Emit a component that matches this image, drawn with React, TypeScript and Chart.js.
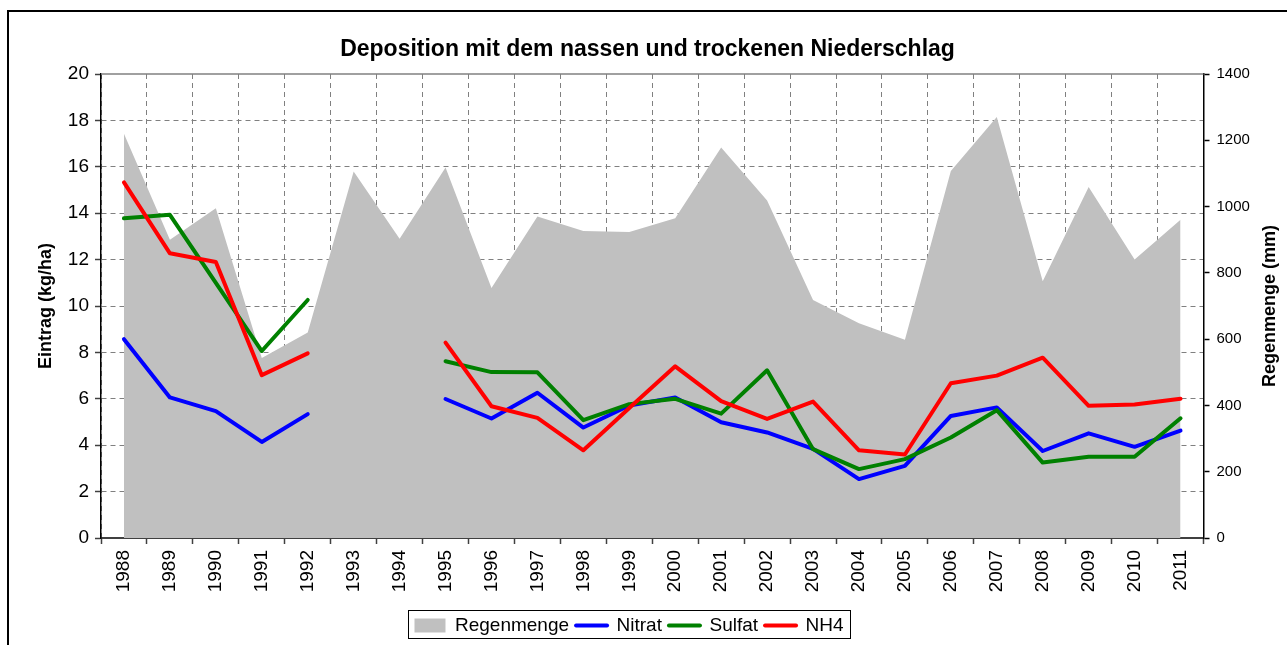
import React, { useEffect, useRef } from 'react';
import { Chart, registerables } from 'chart.js';

Chart.register(...registerables);

const years = ['1988', '1989', '1990', '1991', '1992', '1993', '1994', '1995', '1996', '1997', '1998', '1999', '2000', '2001', '2002', '2003', '2004', '2005', '2006', '2007', '2008', '2009', '2010', '2011'];
const regenmenge = [1220, 900, 995, 543, 620, 1106, 903, 1118, 754, 970, 926, 923, 965, 1178, 1018, 718, 648, 598, 1107, 1270, 775, 1059, 840, 960];
const nitrat = [8.57, 6.06, 5.47, 4.14, 5.34, null, null, 5.99, 5.15, 6.26, 4.76, 5.71, 6.06, 4.99, 4.55, 3.84, 2.54, 3.11, 5.26, 5.63, 3.75, 4.51, 3.93, 4.63];
const sulfat = [13.78, 13.93, 11.0, 8.06, 10.26, null, null, 7.62, 7.15, 7.14, 5.08, 5.77, 6.0, 5.36, 7.23, 3.83, 2.97, 3.4, 4.33, 5.51, 3.25, 3.5, 3.5, 5.16];
const nh4 = [15.33, 12.27, 11.9, 7.02, 7.96, null, null, 8.42, 5.68, 5.18, 3.78, 5.6, 7.4, 5.9, 5.13, 5.88, 3.78, 3.6, 6.67, 7.0, 7.77, 5.7, 5.75, 6.0];

const seriesLabels = ['Regenmenge', 'Nitrat', 'Sulfat', 'NH4'];
const seriesColors = ['#C0C0C0', '#0000FF', '#008000', '#FF0000'];
const titleText = 'Deposition mit dem nassen und trockenen Niederschlag';
const leftAxisTitle = 'Eintrag (kg/ha)';
const rightAxisTitle = 'Regenmenge (mm)';
const leftMin = 0, leftMax = 20, leftStep = 2;
const rightMin = 0, rightMax = 1400, rightStep = 200;

const FONT = '"Liberation Sans", Arial, sans-serif';
const PAD = '       ';
const LEGEND_FONT = 19;

export default function App() {
  const ref = useRef<HTMLCanvasElement>(null);

  useEffect(() => {
    const canvas = ref.current;
    if (!canvas) return;

    const decor = {
      id: 'decor',
      afterDraw(chart: any) {
        const { ctx, chartArea } = chart;
        ctx.save();
        ctx.setLineDash([]);
        // solid top edge of plot area
        ctx.strokeStyle = '#808080';
        ctx.lineWidth = 1.5;
        ctx.beginPath();
        ctx.moveTo(chartArea.left, chartArea.top);
        ctx.lineTo(chartArea.right, chartArea.top);
        ctx.stroke();
        // right axis title (reads bottom to top)
        ctx.fillStyle = '#000';
        ctx.font = `bold 18px ${FONT}`;
        ctx.textAlign = 'center';
        ctx.textBaseline = 'middle';
        ctx.translate(1262, (chartArea.top + chartArea.bottom) / 2);
        ctx.rotate(-Math.PI / 2);
        ctx.fillText(rightAxisTitle, 0, 0);
        ctx.restore();

        // legend frame
        const lg = chart.legend;
        const hb = lg && lg.legendHitBoxes;
        if (hb && hb.length) {
          ctx.save();
          ctx.font = `${LEGEND_FONT}px ${FONT}`;
          const padW = ctx.measureText(PAD).width;
          const first = hb[0];
          const last = hb[hb.length - 1];
          const l = first.left - 6;
          const r = last.left + last.width - padW + 7;
          const t = first.top - 6;
          const b = first.top + first.height + 3;
          ctx.strokeStyle = '#000';
          ctx.lineWidth = 1;
          ctx.setLineDash([]);
          ctx.strokeRect(Math.round(l) + 0.5, Math.round(t) + 0.5, Math.round(r - l), Math.round(b - t));
          ctx.restore();
        }
      },
    };

    const lineDs = (label: string, data: (number | null)[], color: string, order: number) => ({
      type: 'line' as const,
      label,
      data,
      yAxisID: 'y',
      borderColor: color,
      backgroundColor: color,
      borderWidth: 4,
      pointRadius: 0,
      pointHoverRadius: 0,
      fill: false,
      spanGaps: false,
      tension: 0,
      borderJoinStyle: 'round' as const,
      borderCapStyle: 'round' as const,
      order,
    });

    const chart = new Chart(canvas, {
      type: 'line',
      data: {
        labels: years,
        datasets: [
          {
            type: 'line',
            label: seriesLabels[0],
            data: regenmenge,
            yAxisID: 'y2',
            backgroundColor: seriesColors[0],
            borderColor: 'rgba(0,0,0,0)',
            borderWidth: 0,
            pointRadius: 0,
            pointHoverRadius: 0,
            fill: 'origin',
            tension: 0,
            order: 10,
          } as any,
          lineDs(seriesLabels[1], nitrat, seriesColors[1], 3),
          lineDs(seriesLabels[2], sulfat, seriesColors[2], 2),
          lineDs(seriesLabels[3], nh4, seriesColors[3], 1),
        ],
      },
      options: {
        animation: false,
        responsive: false,
        maintainAspectRatio: false,
        events: [],
        layout: { padding: { left: 0, right: 0, top: 0, bottom: 0 } },
        plugins: {
          title: {
            display: true,
            text: titleText,
            color: '#000',
            font: { family: FONT, size: 23, weight: 'bold' },
            padding: { top: 28.2, bottom: 10.2 },
          },
          legend: {
            position: 'bottom',
            labels: {
              usePointStyle: true,
              pointStyleWidth: 31,
              boxHeight: 14,
              padding: 7,
              color: '#000',
              font: { family: FONT, size: LEGEND_FONT },
              generateLabels: (ch: any) =>
                ch.data.datasets.map((ds: any, i: number) => ({
                  text: ds.label + (i === ch.data.datasets.length - 1 ? PAD : ''),
                  datasetIndex: i,
                  hidden: false,
                  fillStyle: i === 0 ? seriesColors[0] : 'rgba(0,0,0,0)',
                  strokeStyle: i === 0 ? 'rgba(0,0,0,0)' : seriesColors[i],
                  lineWidth: i === 0 ? 0 : 4,
                  lineCap: 'round',
                  pointStyle: i === 0 ? 'rect' : 'line',
                  fontColor: '#000',
                })),
            },
          },
          tooltip: { enabled: false },
        },
        scales: {
          x: {
            type: 'category',
            offset: true,
            grid: {
              offset: true,
              color: '#808080',
              lineWidth: 1,
              drawTicks: true,
              tickLength: 6,
              tickColor: '#404040',
              tickWidth: 1.5,
              tickBorderDash: [],
            },
            border: { color: '#404040', width: 2, dash: [5, 4] },
            ticks: {
              autoSkip: false,
              maxRotation: 90,
              minRotation: 90,
              padding: 6,
              color: '#000',
              font: { family: FONT, size: 19 },
            },
            afterFit: (s: any) => {
              s.height = 71;
            },
          },
          y: {
            position: 'left',
            min: leftMin,
            max: leftMax,
            ticks: {
              stepSize: leftStep,
              padding: 6,
              color: '#000',
              font: { family: FONT, size: 19 },
              callback: (v: any) => String(v),
            },
            grid: {
              color: (c: any) => (c.tick && c.tick.value === leftMax ? 'rgba(0,0,0,0)' : '#808080'),
              lineWidth: 1,
              tickLength: 6,
              tickColor: '#404040',
              tickWidth: 1.5,
              tickBorderDash: [],
            },
            border: { color: '#000', width: 1.5, dash: [5, 4] },
            title: {
              display: true,
              text: leftAxisTitle,
              color: '#000',
              font: { family: FONT, size: 18, weight: 'bold' },
              padding: { top: 27.2, bottom: 0 },
            },
            afterFit: (s: any) => {
              s.width = 93;
            },
          },
          y2: {
            position: 'right',
            min: rightMin,
            max: rightMax,
            ticks: {
              stepSize: rightStep,
              padding: 7,
              color: '#000',
              font: { family: FONT, size: 15 },
              callback: (v: any) => String(v),
            },
            grid: {
              drawOnChartArea: false,
              tickLength: 6,
              tickColor: '#000',
              tickWidth: 1.5,
              tickBorderDash: [],
            },
            border: { color: '#000', width: 1.5 },
            afterFit: (s: any) => {
              s.width = 83.5;
            },
          },
        },
      } as any,
      plugins: [decor],
    });

    return () => {
      chart.destroy();
    };
  }, []);

  return (
    <div style={{ position: 'fixed', left: 0, top: 0, width: 1287, height: 645, overflow: 'hidden', background: '#fff' }}>
      <div
        style={{
          position: 'absolute',
          left: 7,
          top: 10,
          width: 1400,
          height: 800,
          border: '2px solid #000',
          boxSizing: 'border-box',
        }}
      />
      <canvas
        ref={ref}
        width={1279}
        height={637}
        style={{ position: 'absolute', left: 8, top: 8, width: 1279, height: 637 }}
      />
    </div>
  );
}
